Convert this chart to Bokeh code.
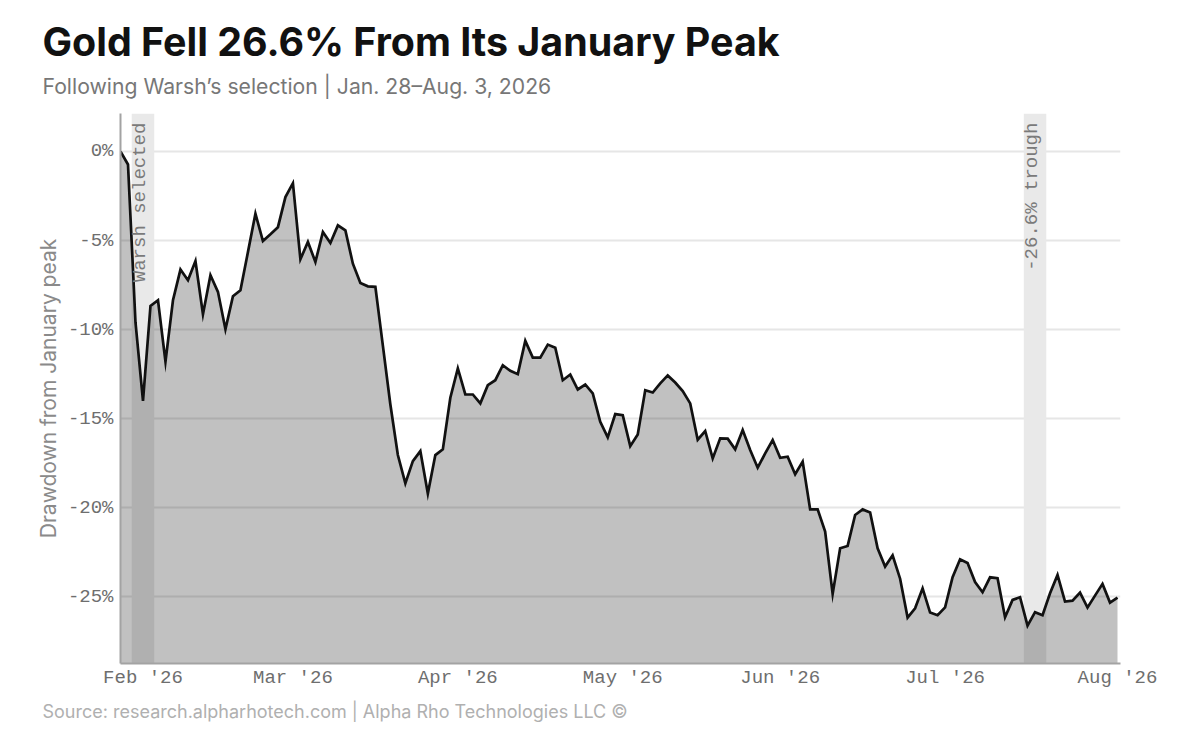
import pandas as pd
from bokeh.plotting import figure
from bokeh.models import (ColumnDataSource, FixedTicker, PrintfTickFormatter, Range1d,
                          BoxAnnotation, Label, Title)
from bokeh.embed import file_html
from bokeh.resources import INLINE

# ---------------- data ----------------
dates = pd.bdate_range("2026-01-28", "2026-08-03")
drawdown = [
    0.0, -0.73, -9.6, -14.0, -8.67, -8.35, -11.8, -8.35, -6.63, -7.23,
    -6.15, -9.14, -6.95, -7.88, -9.98, -8.13, -7.79, -5.65, -3.49, -5.03,
    -4.65, -4.25, -2.56, -1.78, -6.05, -5.08, -6.2, -4.52, -5.14, -4.15,
    -4.43, -6.3, -7.38, -7.57, -7.6, -10.9, -14.2, -17.04, -18.63, -17.38,
    -16.82, -19.2, -17.04, -16.72, -13.82, -12.18, -13.64, -13.64, -14.14, -13.12,
    -12.84, -12.0, -12.31, -12.5, -10.63, -11.57, -11.57, -10.84, -11.02, -12.84,
    -12.52, -13.36, -13.08, -13.58, -15.17, -16.05, -14.74, -14.8, -16.54, -15.88,
    -13.4, -13.53, -13.02, -12.57, -12.97, -13.45, -14.14, -16.18, -15.69, -17.23,
    -16.1, -16.12, -16.72, -15.64, -16.76, -17.75, -16.95, -16.2, -17.19, -17.13,
    -18.12, -17.41, -20.09, -20.09, -21.34, -24.83, -22.27, -22.14, -20.4, -20.09,
    -20.26, -22.27, -23.3, -22.67, -23.98, -26.16, -25.64, -24.52, -25.88, -26.03,
    -25.59, -23.9, -22.89, -23.1, -24.17, -24.74, -23.9, -23.95, -26.14, -25.17,
    -25.02, -26.61, -25.86, -26.03, -24.8, -23.77, -25.26, -25.21, -24.76, -25.6,
    -24.93, -24.27, -25.32, -25.04,
]
y_ticks = [-25, -20, -15, -10, -5, 0]
events = [("2026-01-30", "Warsh selected"), ("2026-07-16", "-26.6% trough")]

title = "Gold Fell 26.6% From Its January Peak"
subtitle = "Following Warsh\u2019s selection | Jan. 28\u2013Aug. 3, 2026"
source_text = "Source: research.alpharhotech.com | Alpha Rho Technologies LLC \u00a9"
y_label = "Drawdown from January peak"

# ---------------- derived ----------------
idx = list(range(len(dates)))
y_min = min(drawdown) * 1.08
y_bottom = [y_min] * len(idx)
src = ColumnDataSource(dict(x=idx, y=drawdown, y0=y_bottom))

month_ticks, month_labels = [], {}
prev = None
for i, d in enumerate(dates):
    if prev is not None and d.month != prev:
        month_ticks.append(i)
        month_labels[i] = d.strftime("%b '%y")
    prev = d.month

MONO = "Liberation Mono"
SANS = "Inter"
W, H = 1184, 734

p = figure(width=W, height=H, output_backend="svg", toolbar_location=None,
           title=None, min_border_left=120, min_border_right=W - 1120,
           min_border_top=113, min_border_bottom=H - 663,
           x_range=Range1d(0, len(idx) - 1 + 0.4), y_range=Range1d(y_min, 2.13))
p.outline_line_color = None
p.background_fill_color = "white"
p.border_fill_color = "white"

p.xgrid.grid_line_color = None
p.ygrid.ticker = FixedTicker(ticks=y_ticks)
p.ygrid.grid_line_color = "#e6e6e6"
p.ygrid.grid_line_width = 2

for ds, txt in events:
    e = list(dates).index(pd.Timestamp(ds))
    band = BoxAnnotation(left=e - 0.5, right=e + 2.5, fill_color="#e9e9e9",
                         fill_alpha=1.0, line_color=None, level="underlay")
    p.add_layout(band)
    p.add_layout(Label(x=e + 0.6, y=1.62, text=txt, angle=90, angle_units="deg",
                       text_align="right", text_baseline="middle",
                       text_font=MONO, text_font_size="19px", text_color="#7a7a7a"))

p.varea(x="x", y1="y0", y2="y", source=src, fill_color="black", fill_alpha=0.245)
p.line(x="x", y="y", source=src, line_color="#111111", line_width=2.7,
       line_join="miter")

for ax in (p.xaxis[0], p.yaxis[0]):
    ax.axis_line_color = "#a3a3a3"
    ax.axis_line_width = 2
    ax.major_tick_line_color = None
    ax.minor_tick_line_color = None
    ax.major_label_text_font = MONO
    ax.major_label_text_font_size = "19px"
    ax.major_label_text_color = "#6e6e6e"

p.xaxis.ticker = FixedTicker(ticks=month_ticks)
p.xaxis.major_label_overrides = month_labels
p.xaxis.major_label_standoff = -3

p.yaxis.ticker = FixedTicker(ticks=y_ticks)
p.yaxis.formatter = PrintfTickFormatter(format="%d%%")
p.yaxis.major_label_standoff = 1
p.yaxis.axis_label = y_label
p.yaxis.axis_label_text_font = SANS
p.yaxis.axis_label_text_font_style = "normal"
p.yaxis.axis_label_text_font_size = "21px"
p.yaxis.axis_label_text_color = "#8a8a8a"
p.yaxis.axis_label_standoff = 4

# subtitle (closest to the frame), then the main title above it
p.add_layout(Title(text=subtitle, align="left", offset=-78, standoff=29,
                   text_font=SANS, text_font_size="21.2px", text_font_style="normal",
                   text_color="#777777"), "above")
p.add_layout(Title(text=title, align="left", offset=-78, standoff=-18,
                   text_font=SANS, text_font_size="39.4px", text_font_style="bold",
                   text_color="#111111"), "above")
# source line below the x axis
p.add_layout(Title(text=source_text, align="left", offset=-78, standoff=14,
                   text_font=SANS, text_font_size="18px", text_font_style="normal",
                   text_color="#b0b0b0"), "below")

open("out.html", "w").write(file_html(p, INLINE))
